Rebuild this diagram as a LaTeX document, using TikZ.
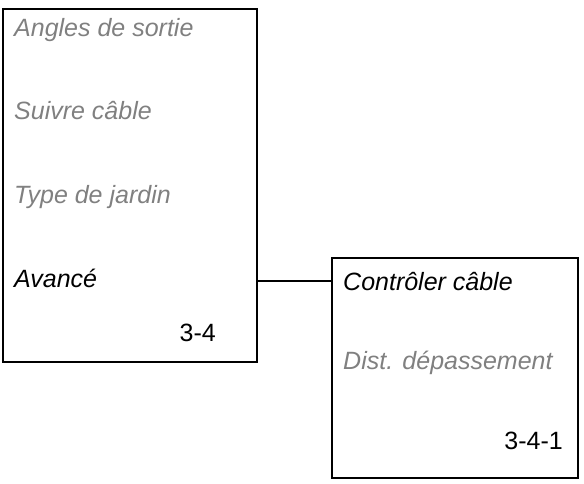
\documentclass[tikz,border=0pt]{standalone}
\usepackage{fontspec}
\setmainfont{Liberation Sans}
\usepackage{tikz}
\usetikzlibrary{positioning}

\begin{document}
\begin{tikzpicture}[x=1pt,y=-1pt,
  menu box/.style={rectangle,draw,line width=2.6pt,inner sep=0pt},
  item/.style={anchor=base west,inner sep=0pt,font=\fontsize{25}{30}\selectfont\itshape},
  off item/.style={item,text=black!50},
  menu nr/.style={anchor=base east,inner sep=0pt,font=\fontsize{25}{30}\selectfont}]
  \useasboundingbox (0,0) rectangle (584,484);

  \node[menu box,minimum width=254pt,minimum height=353pt] (M34) at (130,185.5) {};
  \node[menu box,minimum width=246pt,minimum height=220pt] (M341) at (455,368) {};

  \node[off item] (angles) at (14,37) {Angles de sortie};
  \node[off item] (suivre) at (14,120) {Suivre câble};
  \node[off item] (jardin) at (14,204) {Type de jardin};
  \node[item] (avance) at (14,287) {Avancé};
  \node[menu nr] (nr34) at (216,341) {3-4};

  \node[item] (ctrl) at (343,290) {Contrôler câble};
  \node[off item] (depass) at (343,369) {Dist. dépassement};
  \node[menu nr] (nr341) at (563,449) {3-4-1};

  \path[line width=1.5pt]
     (M34.east |- ctrl) edge [-] (M341.west |- ctrl);
\end{tikzpicture}
\end{document}
